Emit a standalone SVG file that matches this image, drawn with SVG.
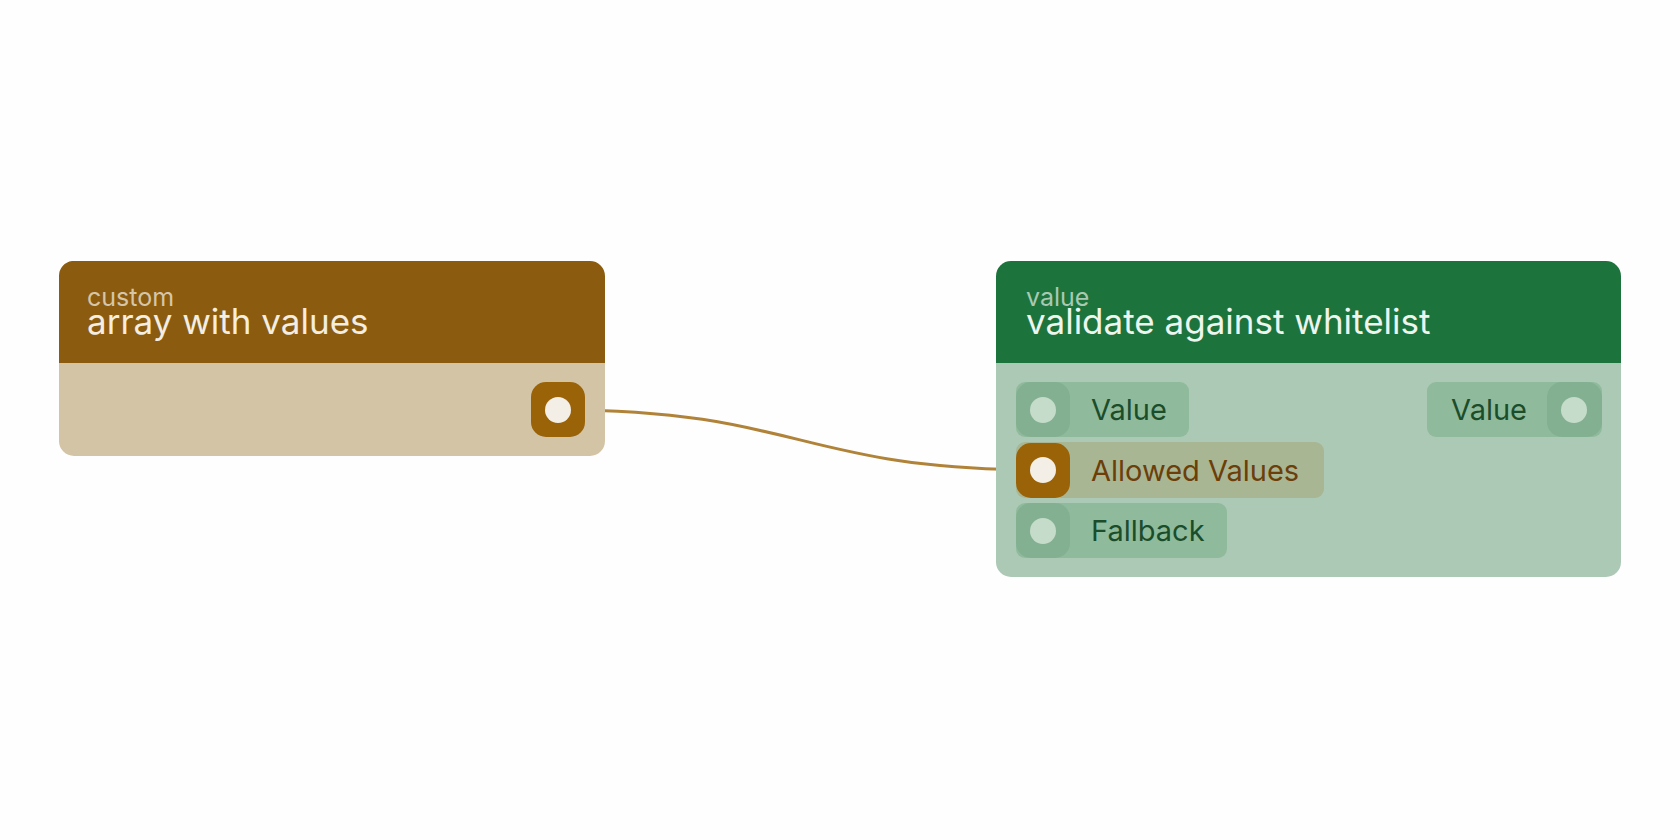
<svg xmlns="http://www.w3.org/2000/svg" width="1680" height="840" viewBox="0 0 1680 840">
<style>
text{font-family:Inter,"Noto Sans",sans-serif}
.sub{font-size:25px}
.ttl{font-size:35px}
.lbl{font-size:29px;fill:#1b4d2b}
.pill{fill:#8fbb9c}
.hdl{fill:#84b092}
.dot{fill:#c5dccb}
</style>
<rect width="1680" height="840" fill="#fefefe"/>
<g id="connectors">
<path d="M560,410 C800,410 800,470 1042,470" fill="none" stroke="#b08339" stroke-width="3"/>
</g>
<g id="node-array">
<path d="M72,261 H590 a15,15 0 0 1 15,15 V363 H59 V276 a15,15 0 0 1 13,-15Z" fill="#8b5c10"/>
<path d="M59,363 H605 V441 a15,15 0 0 1 -15,15 H74 a15,15 0 0 1 -15,-15Z" fill="#d3c4a6"/>
<text x="87" y="306" class="sub" fill="#d6c6a8">custom</text>
<text x="87" y="334" class="ttl" fill="#f3ede2">array with values</text>
<rect x="531" y="382" width="54" height="55" rx="15" fill="#9a6308"/>
<circle cx="558" cy="410" r="13" fill="#f3efe6"/>
</g>
<g id="node-validate">
<path d="M1011,261 H1606 a15,15 0 0 1 15,15 V363 H996 V276 a15,15 0 0 1 15,-15Z" fill="#1c743c"/>
<path d="M996,363 H1621 V562 a15,15 0 0 1 -15,15 H1011 a15,15 0 0 1 -15,-15Z" fill="#acc9b5"/>
<text x="1026" y="306" class="sub" fill="#a9c9b3">value</text>
<text x="1026" y="334" class="ttl" fill="#eef5ef">validate against whitelist</text>
<rect x="1016" y="382" width="173" height="55" rx="9" class="pill"/>
<rect x="1016" y="382" width="54" height="55" rx="15" class="hdl"/>
<circle cx="1043" cy="410" r="13" class="dot"/>
<text x="1091" y="420" class="lbl">Value</text>
<rect x="1016" y="442" width="308" height="56" rx="9" fill="#a9b693"/>
<rect x="1016" y="443" width="54" height="55" rx="15" fill="#9a6308"/>
<circle cx="1043" cy="470" r="13" fill="#f3efe6"/>
<text x="1091" y="481" class="lbl" style="fill:#6b3e0a">Allowed Values</text>
<rect x="1016" y="503" width="211" height="55" rx="9" class="pill"/>
<rect x="1016" y="503" width="54" height="55" rx="15" class="hdl"/>
<circle cx="1043" cy="531" r="13" class="dot"/>
<text x="1091" y="541" class="lbl">Fallback</text>
<rect x="1427" y="382" width="175" height="55" rx="9" class="pill"/>
<rect x="1547" y="382" width="55" height="55" rx="15" class="hdl"/>
<circle cx="1574" cy="410" r="13" class="dot"/>
<text x="1527" y="420" class="lbl" text-anchor="end">Value</text>
</g>
</svg>
